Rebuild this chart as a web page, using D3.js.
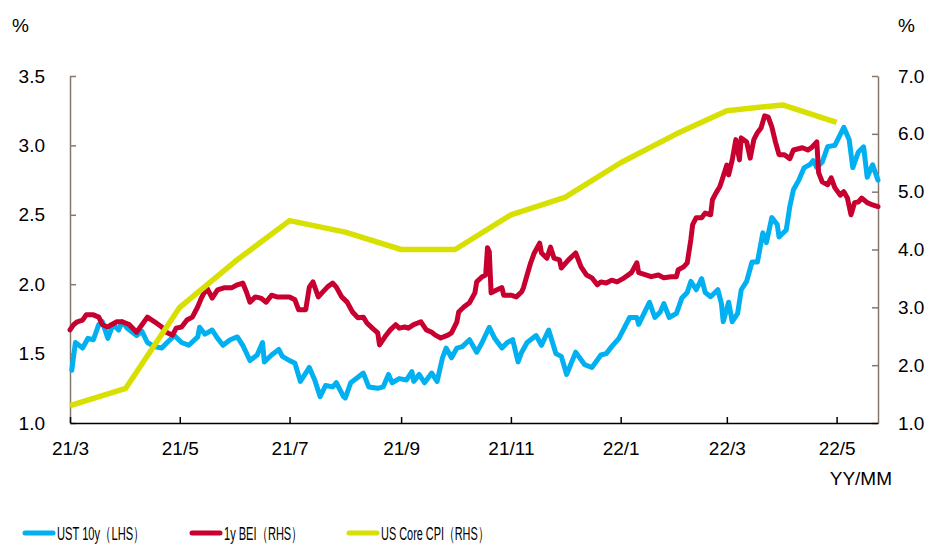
<!DOCTYPE html>
<html>
<head>
<meta charset="utf-8">
<script src="https://cdn.jsdelivr.net/npm/d3@7"></script>
<style>
  html, body { margin: 0; padding: 0; background: #fff; }
  svg { display: block; font-family: "Liberation Sans", Arial, sans-serif; }
</style>
</head>
<body>
<svg id="chart" width="930" height="544"></svg>
<script>
// === data ===

// UST 10y (LHS), daily-ish samples
const ustDates = ["2021-03-02","2021-03-04","2021-03-08","2021-03-11","2021-03-14","2021-03-17","2021-03-19","2021-03-22","2021-03-25","2021-03-28","2021-03-30",
  "2021-04-02","2021-04-07","2021-04-10","2021-04-13","2021-04-17","2021-04-21","2021-04-24","2021-04-28",
  "2021-05-02","2021-05-06","2021-05-11","2021-05-12","2021-05-15","2021-05-19","2021-05-22","2021-05-25","2021-05-29",
  "2021-06-02","2021-06-05","2021-06-09","2021-06-13","2021-06-16","2021-06-17","2021-06-21","2021-06-25","2021-06-27",
  "2021-07-01","2021-07-04","2021-07-07","2021-07-10","2021-07-12","2021-07-15","2021-07-18","2021-07-21","2021-07-25","2021-07-27","2021-07-31",
  "2021-08-01","2021-08-04","2021-08-08","2021-08-11","2021-08-14","2021-08-19","2021-08-22","2021-08-25","2021-08-27","2021-08-31",
  "2021-09-04","2021-09-07","2021-09-08","2021-09-11","2021-09-14","2021-09-18","2021-09-21","2021-09-24","2021-09-26","2021-09-29",
  "2021-10-02","2021-10-05","2021-10-09","2021-10-13","2021-10-16","2021-10-20","2021-10-23","2021-10-27","2021-10-30",
  "2021-11-02","2021-11-05","2021-11-07","2021-11-10","2021-11-15","2021-11-18","2021-11-22","2021-11-26","2021-11-29",
  "2021-12-02","2021-12-07","2021-12-12","2021-12-16","2021-12-21","2021-12-24","2021-12-27","2021-12-31",
  "2022-01-06","2022-01-10","2022-01-11","2022-01-14","2022-01-17","2022-01-20","2022-01-23","2022-01-25","2022-01-28",
  "2022-02-01","2022-02-04","2022-02-07","2022-02-09","2022-02-12","2022-02-15","2022-02-17","2022-02-20","2022-02-24","2022-02-26","2022-02-27",
  "2022-03-02","2022-03-04","2022-03-07","2022-03-09","2022-03-12","2022-03-15","2022-03-18","2022-03-21","2022-03-23","2022-03-26","2022-03-29","2022-03-30",
  "2022-04-03","2022-04-05","2022-04-07","2022-04-10","2022-04-13","2022-04-16","2022-04-18","2022-04-20","2022-04-23","2022-04-26","2022-04-30",
  "2022-05-05","2022-05-08","2022-05-10","2022-05-13","2022-05-16","2022-05-18","2022-05-21","2022-05-24"];
const ustValues = [1.38,1.58,1.54,1.61,1.60,1.71,1.73,1.61,1.71,1.67,
  1.73,1.68,1.63,1.66,1.58,1.55,1.54,1.58,1.63,1.58,
  1.56,1.62,1.69,1.64,1.67,1.61,1.56,1.60,1.62,1.56,
  1.45,1.49,1.58,1.44,1.49,1.53,1.48,1.45,1.43,1.30,
  1.36,1.40,1.31,1.19,1.27,1.26,1.29,1.19,1.18,1.29,
  1.33,1.36,1.26,1.25,1.26,1.35,1.29,1.32,1.31,1.37,
  1.30,1.35,1.29,1.36,1.30,1.47,1.54,1.47,1.54,1.55,
  1.60,1.51,1.58,1.69,1.61,1.54,1.58,1.60,1.44,1.51,
  1.58,1.63,1.56,1.67,1.50,1.48,1.35,1.51,1.42,1.40,
  1.49,1.50,1.55,1.61,1.76,1.76,1.71,1.79,1.87,1.76,
  1.80,1.86,1.76,1.79,1.90,1.94,2.02,1.96,2.04,1.94,
  1.91,1.96,1.86,1.73,1.87,1.73,1.79,1.96,2.02,2.16,
  2.16,2.37,2.30,2.48,2.43,2.34,2.39,2.56,2.68,2.75,
  2.84,2.86,2.89,2.84,2.88,2.99,3.00,3.13,3.04,2.84,
  2.95,2.99,2.77,2.86,2.75];

// 1y BEI (RHS)
const beiDates = ["2021-03-01","2021-03-03","2021-03-05","2021-03-08","2021-03-10","2021-03-14","2021-03-17","2021-03-19","2021-03-22","2021-03-24","2021-03-27","2021-03-30",
  "2021-04-03","2021-04-07","2021-04-10","2021-04-13","2021-04-17","2021-04-21","2021-04-24","2021-04-27","2021-04-29",
  "2021-05-02","2021-05-05","2021-05-08","2021-05-11","2021-05-13","2021-05-16","2021-05-19","2021-05-22","2021-05-26","2021-05-30",
  "2021-06-02","2021-06-05","2021-06-07","2021-06-09","2021-06-12","2021-06-15","2021-06-18","2021-06-21","2021-06-24","2021-06-27",
  "2021-07-01","2021-07-04","2021-07-06","2021-07-10","2021-07-12","2021-07-14","2021-07-17","2021-07-19","2021-07-22","2021-07-25","2021-07-27","2021-07-30",
  "2021-08-02","2021-08-05","2021-08-08","2021-08-11","2021-08-13","2021-08-16","2021-08-19","2021-08-20","2021-08-23","2021-08-26","2021-08-29","2021-08-31",
  "2021-09-03","2021-09-05","2021-09-08","2021-09-12","2021-09-15","2021-09-18","2021-09-20","2021-09-23","2021-09-27","2021-09-29",
  "2021-10-02","2021-10-03","2021-10-06","2021-10-09","2021-10-12","2021-10-13","2021-10-16","2021-10-18","2021-10-19","2021-10-20","2021-10-21","2021-10-24","2021-10-27","2021-10-28",
  "2021-11-01","2021-11-04","2021-11-07","2021-11-08","2021-11-10","2021-11-12","2021-11-14","2021-11-17","2021-11-18","2021-11-21","2021-11-23","2021-11-25","2021-11-28","2021-11-29",
  "2021-12-03","2021-12-07","2021-12-10","2021-12-13","2021-12-16","2021-12-19","2021-12-21","2021-12-24","2021-12-27","2021-12-30",
  "2022-01-03","2022-01-07","2022-01-10","2022-01-11","2022-01-15","2022-01-18","2022-01-22","2022-01-25","2022-01-29",
  "2022-02-01","2022-02-02","2022-02-05","2022-02-07","2022-02-09","2022-02-10","2022-02-12","2022-02-15","2022-02-17","2022-02-20","2022-02-21","2022-02-23","2022-02-25","2022-02-26",
  "2022-03-01","2022-03-02","2022-03-04","2022-03-06","2022-03-08","2022-03-09","2022-03-12","2022-03-14","2022-03-16","2022-03-18","2022-03-20","2022-03-22","2022-03-24","2022-03-26","2022-03-28","2022-03-30",
  "2022-04-02","2022-04-05","2022-04-07","2022-04-12","2022-04-15","2022-04-17","2022-04-20","2022-04-21","2022-04-23","2022-04-26","2022-04-28","2022-04-30",
  "2022-05-03","2022-05-05","2022-05-07","2022-05-09","2022-05-11","2022-05-13","2022-05-15","2022-05-18","2022-05-21","2022-05-24"];
const beiValues = [2.61,2.70,2.75,2.78,2.87,2.87,2.83,2.70,2.66,2.70,2.75,2.75,
  2.70,2.57,2.70,2.83,2.75,2.66,2.56,2.52,2.64,
  2.66,2.78,2.83,3.01,3.16,3.34,3.16,3.30,3.34,3.34,
  3.39,3.42,3.27,3.09,3.18,3.16,3.09,3.21,3.18,3.18,
  3.18,3.13,2.96,2.96,3.35,3.44,3.18,3.25,3.35,3.42,3.35,3.18,
  3.09,2.92,2.82,2.83,2.73,2.64,2.56,2.35,2.49,2.61,2.70,2.64,
  2.66,2.64,2.70,2.75,2.61,2.57,2.52,2.47,2.52,2.56,
  2.75,2.92,3.01,3.08,3.25,3.44,3.53,3.56,4.03,3.96,3.25,3.30,3.34,3.21,
  3.21,3.18,3.27,3.34,3.56,3.77,3.94,4.11,3.94,3.85,4.04,3.85,3.82,3.68,
  3.82,3.94,3.70,3.56,3.51,3.39,3.44,3.42,3.47,3.44,
  3.51,3.60,3.77,3.60,3.56,3.53,3.56,3.51,3.53,
  3.53,3.65,3.70,3.77,4.17,4.43,4.55,4.55,4.63,4.60,4.86,4.98,5.08,5.17,
  5.46,5.29,5.55,5.90,5.55,5.93,5.86,5.58,5.90,6.02,6.10,6.31,6.29,6.12,5.86,5.64,
  5.64,5.57,5.72,5.76,5.72,5.76,5.86,5.33,5.17,5.12,5.24,5.07,
  4.94,5.00,4.89,4.60,4.81,4.82,4.89,4.81,4.77,4.74];

// US Core CPI (RHS), monthly
const cpiMonths = ["2021-03","2021-04","2021-05","2021-06","2021-07","2021-08","2021-09","2021-10","2021-11","2021-12",
  "2022-01","2022-02","2022-03","2022-04","2022-05"];
const cpiValues = [1.3,1.6,3.0,3.8,4.5,4.3,4.0,4.0,4.6,4.9,5.5,6.0,6.4,6.5,6.2];

const xTicks = ["2021-03","2021-05","2021-07","2021-09","2021-11","2022-01","2022-03","2022-05"];
const leftTicks = [1.0,1.5,2.0,2.5,3.0,3.5];
const rightTicks = [1.0,2.0,3.0,4.0,5.0,6.0,7.0];

const seriesNames = ["UST 10y（LHS）", "1y BEI（RHS）", "US Core CPI（RHS）"];
const seriesColors = ["#00b0f0", "#c8002f", "#d7e000"];

// === drawing ===
const svg = d3.select("#chart");
const M = { left: 70, right: 878, top: 76, bottom: 423 };

const parseDay = d3.timeParse("%Y-%m-%d");
const parseMonth = d3.timeParse("%Y-%m");

const x = d3.scaleTime()
  .domain([parseDay("2021-03-01"), parseDay("2022-05-24")])
  .range([M.left, M.right]);
const yL = d3.scaleLinear().domain([1, 3.5]).range([M.bottom, M.top]);
const yR = d3.scaleLinear().domain([1, 7]).range([M.bottom, M.top]);

const axisColor = "#85776b";
const fontSize = 19;

// left axis
const gL = svg.append("g")
  .attr("transform", `translate(${M.left},0)`)
  .call(d3.axisLeft(yL).tickValues(leftTicks).tickFormat(d3.format(".1f"))
    .tickSizeInner(-6).tickSizeOuter(0).tickPadding(25));
gL.select(".domain").attr("stroke", axisColor).attr("stroke-width", 1.5);
gL.selectAll(".tick line").attr("stroke", axisColor).attr("stroke-width", 1.5);
gL.selectAll("text").attr("font-size", fontSize).attr("fill", "#000")
  .attr("font-family", "Liberation Sans, Arial, sans-serif");

// right axis
const gR = svg.append("g")
  .attr("transform", `translate(${M.right},0)`)
  .call(d3.axisRight(yR).tickValues(rightTicks).tickFormat(d3.format(".1f"))
    .tickSizeInner(-6).tickSizeOuter(0).tickPadding(20));
gR.select(".domain").attr("stroke", axisColor).attr("stroke-width", 1.5);
gR.selectAll(".tick line").attr("stroke", axisColor).attr("stroke-width", 1.5);
gR.selectAll("text").attr("font-size", fontSize).attr("fill", "#000")
  .attr("font-family", "Liberation Sans, Arial, sans-serif");

// bottom axis
const gB = svg.append("g")
  .attr("transform", `translate(0,${M.bottom})`)
  .call(d3.axisBottom(x).tickValues(xTicks.map(parseMonth))
    .tickFormat(d3.timeFormat("%y/%-m"))
    .tickSizeInner(-6).tickSizeOuter(0).tickPadding(19));
gB.select(".domain").attr("stroke", "#000").attr("stroke-width", 1.5);
gB.selectAll(".tick line").attr("stroke", "#000").attr("stroke-width", 1.5);
gB.selectAll("text").attr("font-size", fontSize).attr("fill", "#000")
  .attr("font-family", "Liberation Sans, Arial, sans-serif");

// unit labels
svg.append("text").attr("x", 12).attr("y", 32).attr("font-size", fontSize).text("%");
svg.append("text").attr("x", 898).attr("y", 32).attr("font-size", fontSize).text("%");
svg.append("text").attr("x", 892).attr("y", 485).attr("text-anchor", "end")
  .attr("font-size", fontSize).text("YY/MM");

// lines
const ustData = ustDates.map((d, i) => ({ date: parseDay(d), value: ustValues[i] }));
const beiData = beiDates.map((d, i) => ({ date: parseDay(d), value: beiValues[i] }));
const cpiData = cpiMonths.map((d, i) => ({ date: parseMonth(d), value: cpiValues[i] }));

const lineL = d3.line().x(d => x(d.date)).y(d => yL(d.value));
const lineR = d3.line().x(d => x(d.date)).y(d => yR(d.value));

svg.append("path").datum(ustData).attr("d", lineL)
  .attr("fill", "none").attr("stroke", seriesColors[0]).attr("stroke-width", 5)
  .attr("stroke-linejoin", "round").attr("stroke-linecap", "round");
svg.append("path").datum(beiData).attr("d", lineR)
  .attr("fill", "none").attr("stroke", seriesColors[1]).attr("stroke-width", 5)
  .attr("stroke-linejoin", "round").attr("stroke-linecap", "round");
svg.append("path").datum(cpiData).attr("d", lineR)
  .attr("fill", "none").attr("stroke", seriesColors[2]).attr("stroke-width", 5.5)
  .attr("stroke-linejoin", "round").attr("stroke-linecap", "butt");

// legend: condensed text, squeezed horizontally to the widths seen in the reference
const legendX = [23, 190, 347];
const legendTextW = [87, 78, 108];
const legend = svg.append("g");
seriesNames.forEach((name, i) => {
  legend.append("line")
    .attr("x1", legendX[i] + 2).attr("x2", legendX[i] + 30)
    .attr("y1", 533).attr("y2", 533)
    .attr("stroke", seriesColors[i]).attr("stroke-width", 5).attr("stroke-linecap", "round");
  const t = legend.append("text")
    .attr("x", 0).attr("y", 0)
    .attr("font-size", 19)
    .attr("font-family", "Liberation Sans, Arial, sans-serif")
    .text(name);
  const w = t.node().getComputedTextLength();
  t.attr("transform", `translate(${legendX[i] + 34},540) scale(${legendTextW[i] / w},1)`);
});
</script>
</body>
</html>
